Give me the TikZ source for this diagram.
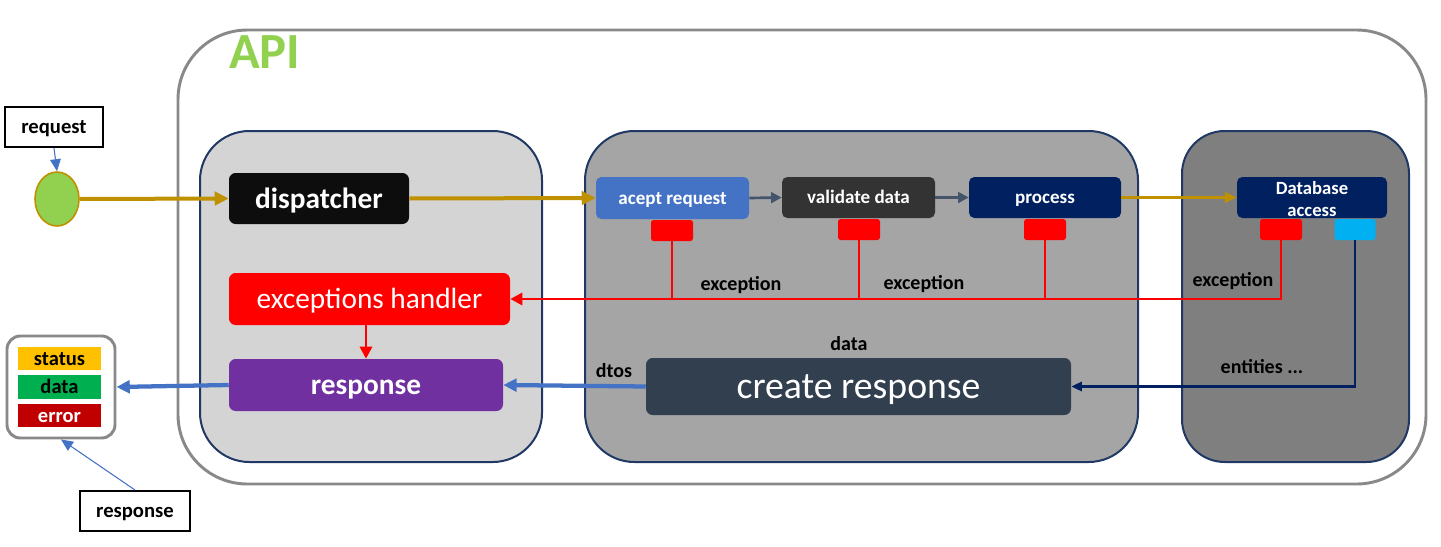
\documentclass[tikz,border=0pt]{standalone}
\usepackage{fontspec}
\setmainfont{Carlito}
\usetikzlibrary{arrows.meta,shapes.geometric}
\definecolor{gold}{HTML}{BF9000}
\definecolor{apigreen}{HTML}{92D050}
\definecolor{slatearrow}{HTML}{44546A}
\definecolor{blueacc}{HTML}{4472C4}
\definecolor{navy}{HTML}{002060}
\definecolor{createc}{HTML}{323F4F}
\definecolor{panelborder}{HTML}{1F3864}
\definecolor{apiborder}{HTML}{898989}
\definecolor{panelA}{HTML}{D4D4D4}
\definecolor{panelB}{HTML}{A5A5A5}
\definecolor{panelC}{HTML}{7F7F7F}
\definecolor{dispc}{HTML}{0D0D0D}
\definecolor{validc}{HTML}{333333}
\definecolor{purp}{HTML}{7030A0}
\definecolor{redc}{HTML}{FF0000}
\definecolor{cyanc}{HTML}{00B0F0}
\definecolor{statusc}{HTML}{FFC000}
\definecolor{datac}{HTML}{00B050}
\definecolor{errc}{HTML}{C00000}
\tikzset{
  vc/.style={text height=#1, text depth=0pt},
  panel/.style={draw=panelborder, line width=1.5pt},
  labelbox/.style={vc=10pt, draw=black, line width=1.5pt, fill=white, inner sep=0pt, font=\fontsize{15.5}{17}\selectfont\bfseries},
  stepbox/.style={vc=9.3pt, rounded corners=4pt, inner sep=0pt, text=white, font=\fontsize{14.3}{15}\selectfont\bfseries, minimum width=114.75pt, minimum height=30.75pt, align=center},
  bigbox/.style={vc=14.3pt, rounded corners=5pt, inner sep=0pt, text=white, minimum height=39pt},
  tab/.style={rounded corners=2pt, inner sep=0pt, minimum width=31.5pt, minimum height=15.75pt},
  bar/.style={vc=10pt, inner sep=0pt, minimum width=62.25pt, minimum height=17.5pt, font=\fontsize{15.4}{17}\selectfont\bfseries},
  lbl/.style={vc=9.8pt, font=\fontsize{15}{17}\selectfont\bfseries, inner sep=0pt},
  goldthick/.style={draw=gold, line width=3pt, -{Triangle[length=10.5pt,width=10pt]}},
  goldthin/.style={draw=gold, line width=1.8pt, -{Triangle[length=9pt,width=8pt]}},
  slatearr/.style={draw=slatearrow, line width=2pt, -{Triangle[length=8pt,width=8pt]}},
  redline/.style={draw=redc, line width=2.2pt},
  redarr/.style={draw=redc, line width=2.2pt, -{Triangle[length=9pt,width=9pt]}},
  bluethick/.style={draw=blueacc, line width=3.2pt, -{Triangle[length=10pt,width=9.5pt]}},
  navyarr/.style={draw=navy, line width=1.8pt, -{Triangle[length=8pt,width=7pt]}},
  thinblue/.style={draw=blueacc, line width=0.8pt, -{Triangle[length=9pt,width=8pt]}},
}
\begin{document}
\begin{tikzpicture}[x=0.75pt,y=-0.75pt]
\useasboundingbox (0,0) rectangle (1441,546);
% API container
\draw[apiborder, line width=2.2pt, rounded corners=52pt] (178,30) rectangle (1426,484);
\node[anchor=west, text=apigreen, font=\fontsize{38}{40}\selectfont\bfseries, inner sep=0pt] (api) at (229,52) {API};
% panels
\draw[panel, fill=panelA, rounded corners=37pt] (200,131) rectangle (542,462);
\draw[panel, fill=panelB, rounded corners=37pt] (585,131) rectangle (1138,462);
\draw[panel, fill=panelC, rounded corners=32pt] (1182,131) rectangle (1409,462);
% request side
\node[labelbox, minimum width=73.5pt, minimum height=30pt] (request) at (54,127) {request};
\node[ellipse, draw=gold, line width=1.2pt, fill=apigreen, minimum width=33pt, minimum height=40.5pt, inner sep=0pt] (circ) at (57,199) {};
% panel A nodes
\node[bigbox, fill=dispc, minimum width=135pt, minimum height=38.25pt, font=\fontsize{22}{24}\selectfont\bfseries] (disp) at (319,198.5) {dispatcher};
\node[bigbox, fill=redc, minimum width=210.75pt, font=\fontsize{22}{24}\selectfont] (exc) at (369.5,299) {exceptions handler};
\node[bigbox, fill=purp, minimum width=205.5pt, font=\fontsize{22}{24}\selectfont\bfseries] (resp) at (366,385) {response};
% panel B nodes
\node[stepbox, fill=blueacc, minimum height=31.5pt] (acept) at (672.5,198) {acept request};
\node[stepbox, fill=validc] (valid) at (858.5,197.5) {validate data};
\node[stepbox, fill=navy, minimum width=114pt] (proc) at (1045,197.5) {process};
\node[tab, fill=redc] (r1) at (672,230.5) {};
\node[tab, fill=redc] (r2) at (859,229.5) {};
\node[tab, fill=redc] (r3) at (1045,229.5) {};
\node[bigbox, vc=17.7pt, fill=createc, minimum width=318.75pt, minimum height=42.75pt, font=\fontsize{28.3}{30}\selectfont] (create) at (858.5,386.5) {create response};
% panel C nodes
\node[rounded corners=4pt, inner sep=0pt, text=white, fill=navy, minimum width=112.5pt, minimum height=30.75pt, align=center, font=\fontsize{14}{16.5}\selectfont\bfseries] (db) at (1312,197.5) {\rule{0pt}{12pt}Database\\access};
\node[tab, fill=redc] (r4) at (1281,229.5) {};
\node[tab, fill=cyanc, minimum width=30.75pt] (cy) at (1355,229.5) {};
% response side
\node[draw=apiborder, line width=2.2pt, fill=white, rounded corners=10pt, minimum width=81pt, minimum height=76.5pt, inner sep=0pt] (sbox) at (61,387) {};
\node[bar, fill=statusc] (status) at (59.5,358.5) {status};
\node[bar, fill=datac, minimum height=18pt] (data) at (59.5,387) {data};
\node[bar, fill=errc, text=white] (error) at (59.5,415.5) {error};
\node[labelbox, minimum width=82.5pt, minimum height=30pt] (resplbl) at (135,511) {response};
% labels
\node[lbl] (l1) at (741,284) {exception};
\node[lbl] (l2) at (924,283) {exception};
\node[lbl] (l3) at (1233,280) {exception};
\node[lbl] (ldata) at (849,344) {data};
\node[lbl] (ldtos) at (614,371) {dtos};
\node[lbl] (lent) at (1262,367) {entities ...};
% connectors
\draw[thinblue] (request.south) -- (circ.north);
\draw[goldthick] (circ.east) -- (disp.west);
\draw[goldthick] (disp.east) -- (acept.west);
\draw[slatearr] (acept.east) -- (valid.west);
\draw[slatearr] (valid.east) -- (proc.west);
\draw[goldthin] (proc.east) -- (db.west);
\draw[redarr] (r4.south) |- (exc.east);
\draw[redline] (r1.south) -- (r1.south |- exc.east);
\draw[redline] (r2.south) -- (r2.south |- exc.east);
\draw[redline] (r3.south) -- (r3.south |- exc.east);
\draw[redarr] (exc.south -| resp.north) -- (resp.north);
\draw[bluethick] (resp.west) -- (sbox.east);
\draw[bluethick] (create.west) -- (resp.east);
\draw[navyarr] (cy.south) |- (create.east);
\draw[thinblue] (resplbl.north) -- (sbox.south);
\end{tikzpicture}
\end{document}
